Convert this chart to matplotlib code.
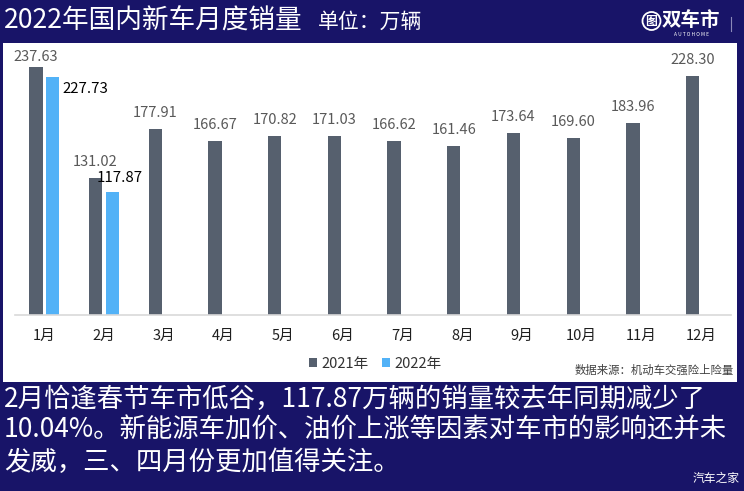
import matplotlib
matplotlib.use('Agg')

import numpy as np
import matplotlib.pyplot as plt
from matplotlib.patches import Rectangle, Circle, Patch
from matplotlib.lines import Line2D

plt.rcParams['font.family'] = ['Noto Sans CJK SC', 'DejaVu Sans']

# Data (万辆)
months = ['1月', '2月', '3月', '4月', '5月', '6月',
          '7月', '8月', '9月', '10月', '11月', '12月']
sales_2021 = [237.63, 131.02, 177.91, 166.67, 170.82, 171.03,
              166.62, 161.46, 173.64, 169.60, 183.96, 228.30]
sales_2022 = [227.73, 117.87]
series_names = ['2021年', '2022年']

title = '2022年国内新车月度销量'
unit = '单位：万辆'
source = '数据来源：机动车交强险上险量'
caption = ['2月恰逢春节车市低谷，117.87万辆的销量较去年同期减少了',
           '10.04%。新能源车加价、油价上涨等因素对车市的影响还并未',
           '发威，三、四月份更加值得关注。']

navy = '#181468'
c2021 = '#56606e'
c2022 = '#52b2f7'

W, H = 744, 491


def fx(px):
    return px / W


def fy(py):
    return 1 - py / H


fig = plt.figure(figsize=(W / 100, H / 100), dpi=100, facecolor=navy)

# white panel behind the chart
fig.patches.append(Rectangle((fx(3), fy(381.5)), fx(734), 338.5 / H,
                             transform=fig.transFigure, facecolor='white',
                             edgecolor='none', zorder=-5))

# axes placement in pixels
ax_l, ax_r, ax_t, ax_b = 14.5, 731, 45, 314.7
ax = fig.add_axes([fx(ax_l), fy(ax_b), (ax_r - ax_l) / W, (ax_b - ax_t) / H])
ax.patch.set_alpha(0)
px_per_unit = 1.044
ymax = (ax_b - ax_t) / px_per_unit
ax.set_ylim(0, ymax)
ax.set_xlim(-0.5, len(months) - 0.5)

x = np.arange(len(months))
bw = 0.223
off = 0.142
ax.bar(x - off, sales_2021, width=bw, color=c2021, zorder=2)
x22 = x[:len(sales_2022)] + off
ax.bar(x22, sales_2022, width=bw, color=c2022, zorder=2)

# value labels for 2021
lab_gap = 16 / px_per_unit
lab_cap = (ax_b - 56.7) / px_per_unit
for xi, v in zip(x - off, sales_2021):
    ax.text(xi, min(v + lab_gap, lab_cap), '{:.2f}'.format(v),
            ha='center', va='center', fontsize=10.5, color='#595959')

# 2022 labels were placed by hand in the original
label_shift_2022 = [(33, -12.3), (7.5, 14)]
for xi, v, (dx, dy) in zip(x22, sales_2022, label_shift_2022):
    ax.annotate('{:.2f}'.format(v), (xi, v), xytext=(dx, dy),
                textcoords='offset pixels', ha='center', va='center',
                fontsize=10.8, color='black')

ax.set_xticks(x)
ax.set_xticklabels(months)
ax.tick_params(axis='x', length=0, pad=10, labelsize=10.5, labelcolor='#1f1f1f')
ax.set_yticks([])
for s in ['top', 'right', 'left']:
    ax.spines[s].set_visible(False)
ax.spines['bottom'].set_color('#d9d9d9')
ax.spines['bottom'].set_linewidth(1.2)

handles = [Patch(facecolor=c2021), Patch(facecolor=c2022)]
ax.legend(handles, series_names, loc='center',
          bbox_to_anchor=(fx(375), fy(364)), bbox_transform=fig.transFigure,
          ncol=2, frameon=False, handlelength=0.55, handleheight=0.55,
          handletextpad=0.3, columnspacing=0.9, fontsize=10.5,
          labelcolor='#333333')

fig.text(fx(734), fy(370), source, ha='right', va='center',
         fontsize=8.2, color='#404040')

# header
fig.text(fx(4), fy(21), title, ha='left', va='center', fontsize=19.2,
         color='white')
fig.text(fx(318), fy(22), unit, ha='left', va='center', fontsize=15,
         color='white')

# logo
fig.patches.append(Circle((651.5 / 100, (H - 21) / 100), 0.09,
                          transform=fig.dpi_scale_trans, facecolor='none',
                          edgecolor='white', linewidth=1.3))
fig.text(fx(651.5), fy(21), '图', ha='center', va='center', fontsize=8.5,
         color='white', fontweight='bold')
fig.text(fx(662), fy(20), '双车市', ha='left', va='center', fontsize=14,
         color='white', fontweight='bold', style='italic')
fig.text(fx(691), fy(34), 'A U T O H O M E', ha='center', va='center',
         fontsize=3.5, color='white', style='italic')
fig.lines.append(Line2D([fx(731), fx(731)], [fy(17), fy(31)],
                        transform=fig.transFigure, color='#8a88b8',
                        linewidth=0.8))

# caption under the panel
for i, line in enumerate(caption):
    fig.text(fx(4), fy(399 + i * 31.5), line, ha='left', va='center',
             fontsize=19, color='white')

fig.text(fx(740), fy(478), '汽车之家', ha='right', va='center',
         fontsize=8.5, color='white')

fig.savefig('out.png', dpi=100, facecolor=navy)
